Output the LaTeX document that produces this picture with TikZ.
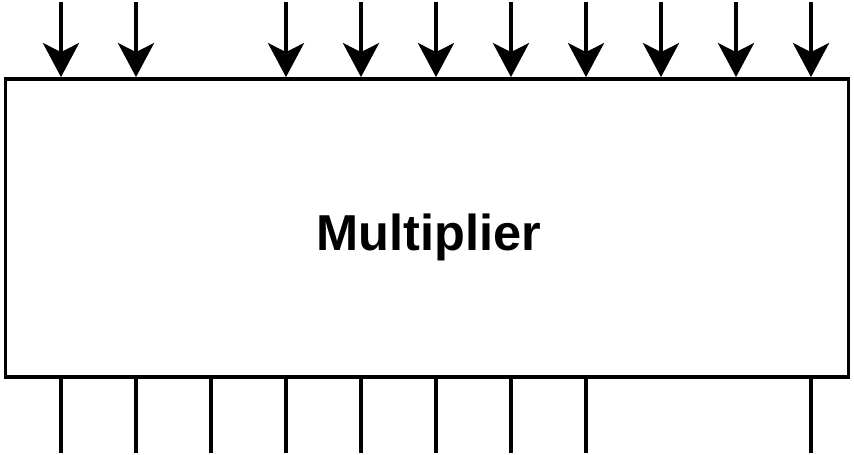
\documentclass[tikz,border=0pt]{standalone}
\usepackage{fontspec}
\setmainfont{Liberation Sans}
\usetikzlibrary{arrows.meta}
\begin{document}
\begin{tikzpicture}[x=1pt,y=-1pt,
  box/.style={draw,line width=3.8pt,minimum width=843pt,minimum height=298pt,inner sep=0pt},
  inarrow/.style={line width=3.8pt,-{Stealth[length=34pt,width=36pt,inset=9pt]}},
  outline/.style={line width=3.8pt}]
\useasboundingbox (0,0) rectangle (854,455);
\node[box] (m) at (427,228) {};
\node[font=\fontsize{50.5}{60}\selectfont\bfseries,anchor=base] (lbl) at (429,250) {Multiplier};
\foreach \i/\x in {1/61,2/136,3/286,4/361,5/436,6/511,7/586,8/661,9/736,10/811}{
  \coordinate (t\i) at (\x,2);
  \draw[inarrow] (t\i) -- (t\i |- m.north);
}
\foreach \i/\x in {1/61,2/136,3/211,4/286,5/361,6/436,7/511,8/586,9/811}{
  \coordinate (b\i) at (\x,453);
  \draw[outline] (b\i |- m.south) -- (b\i);
}
\end{tikzpicture}
\end{document}
